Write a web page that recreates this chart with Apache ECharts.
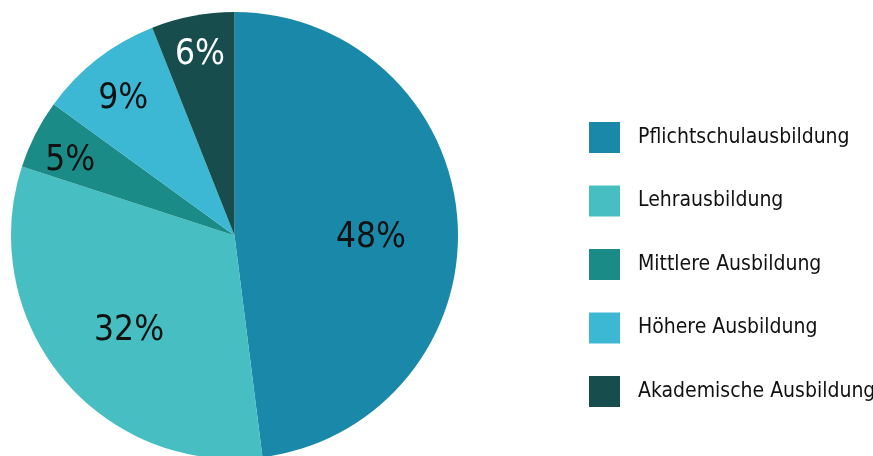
<!DOCTYPE html>
<html>
<head>
<meta charset="utf-8">
<script src="https://cdn.jsdelivr.net/npm/echarts@6/dist/echarts.min.js"></script>
<style>
  html, body { margin: 0; padding: 0; background: #fff; }
  #chart { width: 873px; height: 456px; }
</style>
</head>
<body>
<div id="chart"></div>
<script>
// Ausbildungsniveau – Anteile in %
const categories = ['Pflichtschulausbildung', 'Lehrausbildung', 'Mittlere Ausbildung', 'Höhere Ausbildung', 'Akademische Ausbildung']
const shares = [48, 32, 5, 9, 6]
const colors = ['#1a88a8', '#47bec1', '#1a8b86', '#3cb8d5', '#174d4c']
// label placement tweaks (offset from the 'inside' position)
const labelOffsets = [[22, 10], [-17, 22], [-62, -22], [-41, -46], [-13, -68]]
const labelColors = ['#111', '#111', '#111', '#111', '#fff']

const font = '"DejaVu Sans Condensed", sans-serif'

const chart = echarts.init(document.getElementById('chart'))

chart.setOption({
  animation: false,
  color: colors,
  legend: {
    orient: 'vertical',
    left: 589,
    top: 122,
    padding: 0,
    icon: 'rect',
    itemWidth: 31,
    itemHeight: 31,
    itemGap: 32.5,
    textStyle: {
      fontFamily: font,
      fontSize: 21,
      color: '#111',
      padding: [0, 0, 0, 13]
    },
    data: categories
  },
  series: [
    {
      type: 'pie',
      center: [234.5, 235.5],
      radius: [0, 223.5],
      startAngle: 90,
      clockwise: true,
      avoidLabelOverlap: false,
      labelLine: { show: false },
      label: {
        show: true,
        position: 'inside',
        formatter: '{c}%',
        fontFamily: font,
        fontSize: 35,
        color: '#111'
      },
      data: categories.map((name, i) => ({
        name: name,
        value: shares[i],
        label: { offset: labelOffsets[i], color: labelColors[i] }
      }))
    }
  ]
})
</script>
</body>
</html>
